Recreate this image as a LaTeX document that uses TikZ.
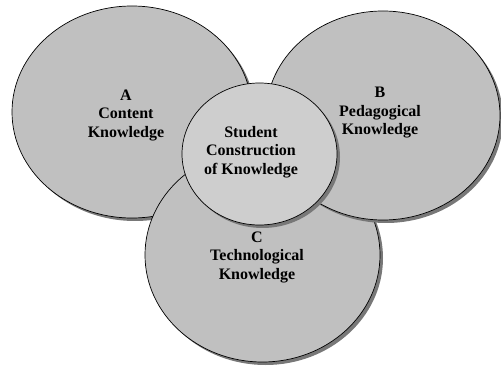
\documentclass[tikz,border=0pt]{standalone}
\usepackage{fontspec}
\setmainfont{Liberation Serif}
\usetikzlibrary{shapes.geometric,shadows}
\definecolor{bubble}{RGB}{192,192,192}
\definecolor{core}{RGB}{206,206,206}
\definecolor{shade}{RGB}{120,120,120}
\tikzset{
  bubble/.style={ellipse, draw=black, line width=0.7pt, fill=bubble, inner sep=0pt, outer sep=0pt,
    drop shadow={shadow xshift=3pt, shadow yshift=-3pt, opacity=1, fill=shade}},
  corebubble/.style={bubble, fill=core},
  lbl/.style={align=center, font=\fontsize{16}{18.5}\selectfont\bfseries, inner sep=0pt}
}
\begin{document}
\begin{tikzpicture}[x=1pt,y=-1pt]
\useasboundingbox (0,0) rectangle (501,366);
\node[bubble, minimum width=240pt, minimum height=212pt] (A) at (132,112) {};
\node[bubble, minimum width=235pt, minimum height=214pt] (C) at (262.5,255) {};
\node[bubble, minimum width=234pt, minimum height=209pt] (B) at (383,115.5) {};
\node[corebubble, minimum width=155pt, minimum height=142pt] (S) at (259.5,154) {};
\node[lbl] (la) at (126,115) {A\\Content\\Knowledge};
\node[lbl] (lb) at (380,113) {B\\Pedagogical\\Knowledge};
\node[lbl] (lc) at (257,257) {C\\Technological\\Knowledge};
\node[lbl] (ls) at (251,152) {Student\\Construction\\of Knowledge};
\end{tikzpicture}
\end{document}
